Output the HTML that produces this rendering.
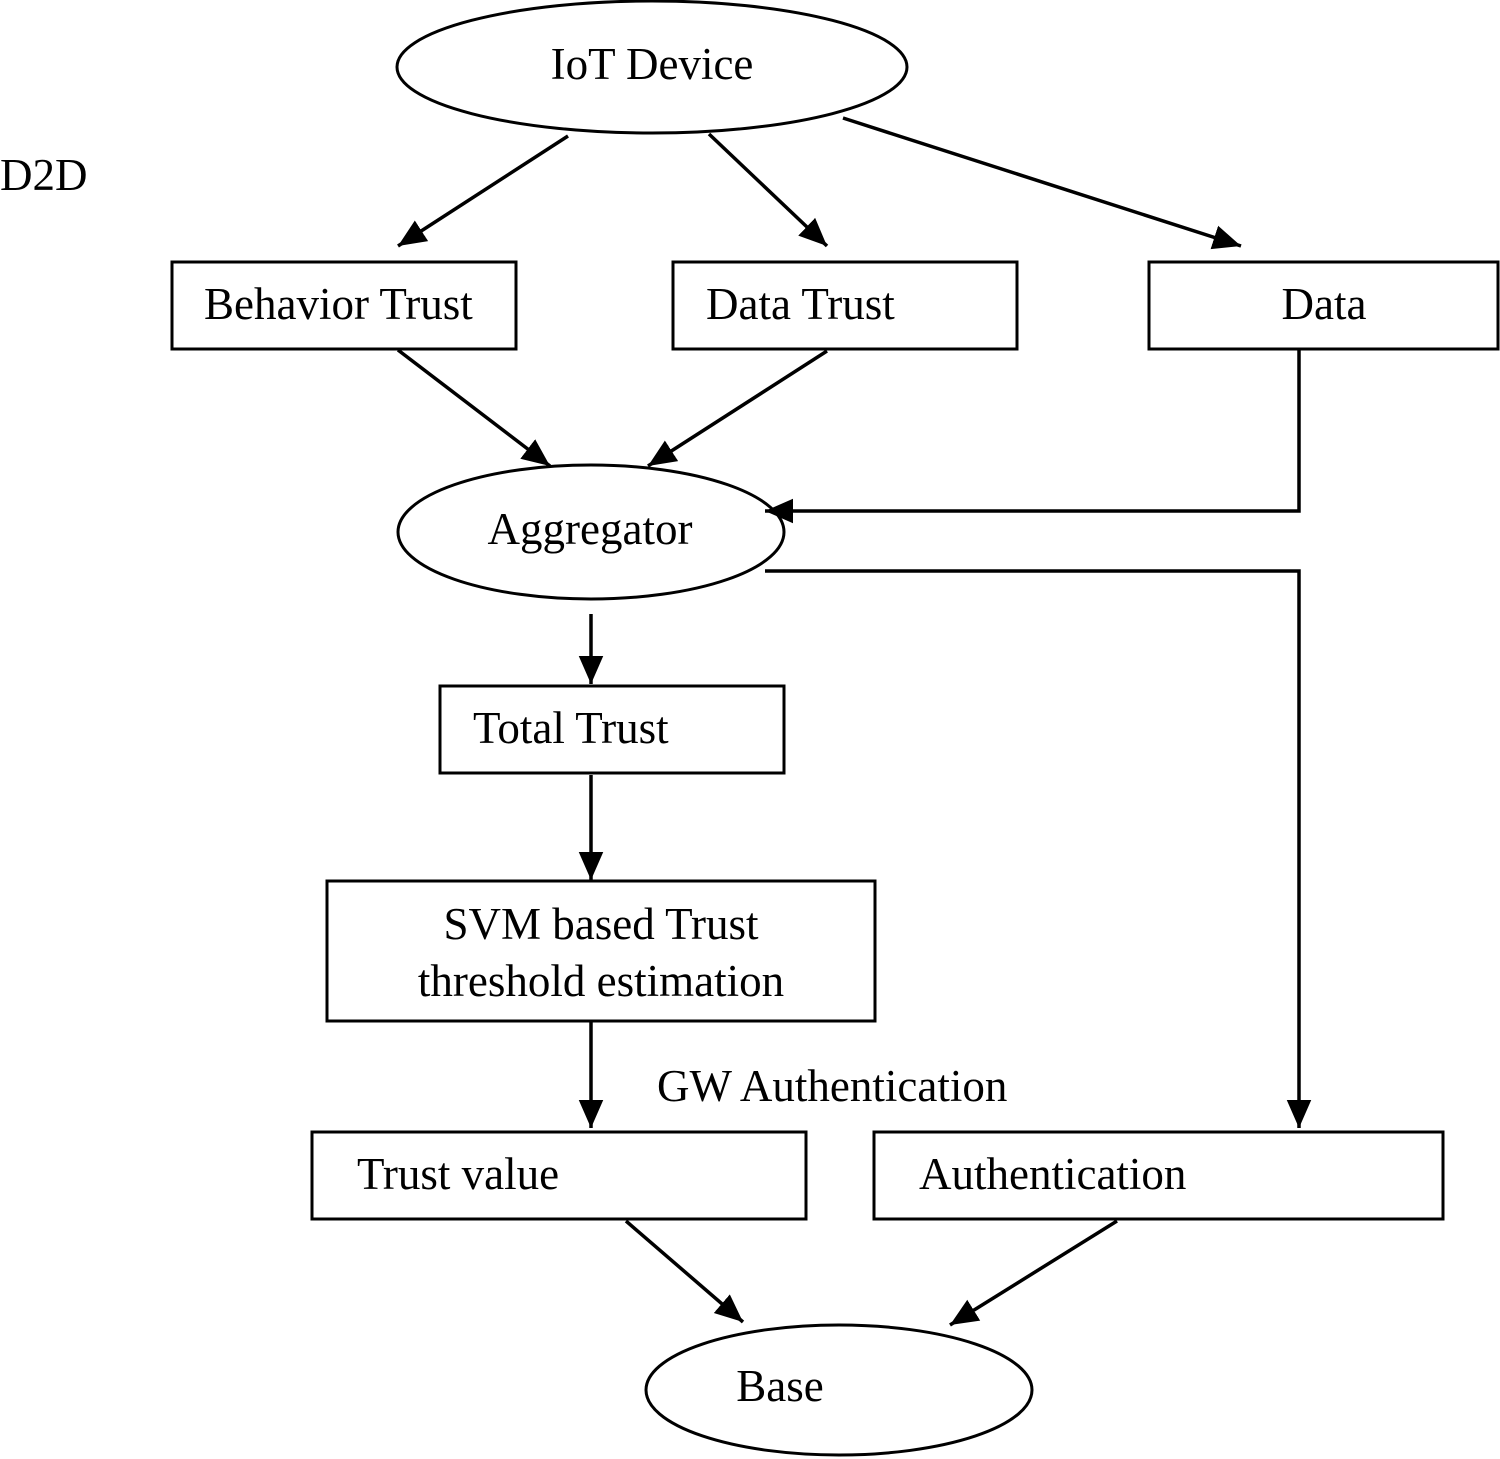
<!DOCTYPE html>
<html><head><style>body{margin:0;background:#fff}svg{display:block}text{font-family:"Liberation Serif",serif;font-size:45px;fill:#000}</style></head>
<body>
<svg width="1500" height="1459" viewBox="0 0 1500 1459">
<defs><marker id="a" markerWidth="9" markerHeight="9" refX="8" refY="4.5" orient="auto" markerUnits="strokeWidth"><path d="M0,1 L8,4.5 L0,8 z" fill="#000"/></marker></defs>
<g fill="none" stroke="#000" stroke-width="3">
<ellipse cx="652" cy="67" rx="255" ry="66"/>
<ellipse cx="591" cy="532" rx="193" ry="67"/>
<ellipse cx="839" cy="1390" rx="193" ry="65"/>
<rect x="172" y="262" width="344" height="87"/>
<rect x="673" y="262" width="344" height="87"/>
<rect x="1149" y="262" width="349" height="87"/>
<rect x="440" y="686" width="344" height="87"/>
<rect x="327" y="881" width="548" height="140"/>
<rect x="312" y="1132" width="494" height="87"/>
<rect x="874" y="1132" width="569" height="87"/>
<g stroke-width="3.5" marker-end="url(#a)">
<line x1="568" y1="136" x2="398" y2="246"/>
<line x1="709" y1="134" x2="827" y2="246"/>
<line x1="843" y1="118" x2="1241" y2="246"/>
<line x1="398" y1="350" x2="550" y2="466"/>
<line x1="827" y1="351" x2="648" y2="466"/>
<polyline points="1299,350 1299,511 765,511"/>
<polyline points="765,571 1299,571 1299,1128"/>
<line x1="591" y1="614" x2="591" y2="684"/>
<line x1="591" y1="775" x2="591" y2="880"/>
<line x1="591" y1="1022" x2="591" y2="1128"/>
<line x1="626" y1="1221" x2="743" y2="1322"/>
<line x1="1117" y1="1221" x2="950" y2="1325"/>
</g></g>
<text x="652" y="79" text-anchor="middle">IoT Device</text>
<text x="0" y="190" font-size="41">D2D</text>
<text x="204" y="319">Behavior Trust</text>
<text x="706" y="319">Data Trust</text>
<text x="1324" y="319" text-anchor="middle">Data</text>
<text x="590" y="544" text-anchor="middle">Aggregator</text>
<text x="473" y="743">Total Trust</text>
<text x="601" y="939" text-anchor="middle">SVM based Trust</text>
<text x="601" y="996" text-anchor="middle">threshold estimation</text>
<text x="657" y="1101">GW Authentication</text>
<text x="357" y="1189">Trust value</text>
<text x="919" y="1189">Authentication</text>
<text x="780" y="1401" text-anchor="middle">Base</text>
</svg>
</body></html>
